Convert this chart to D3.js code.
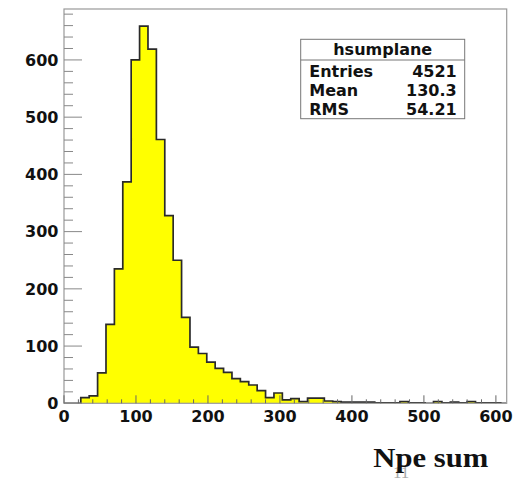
<!DOCTYPE html>
<html>
<head>
<meta charset="utf-8">
<script src="https://cdn.jsdelivr.net/npm/d3@7/dist/d3.min.js"></script>
<style>
  html, body { margin: 0; padding: 0; background: #fff; }
  svg { display: block; }
</style>
</head>
<body>
<svg id="chart" width="520" height="479"></svg>
<script>
// ---- data ----
const histName = "hsumplane";
const binWidth = 35 / 3;          // histogram bin width (Npe units)
const binStart = 0;               // lower edge of first bin
const counts = [0, 0, 10, 13, 53, 138, 235, 387, 600, 659, 619, 461, 328, 250, 150, 98,
                87, 72, 61, 54, 43, 38, 32, 22, 10, 18, 6, 8, 3, 9, 9, 4, 3, 2, 2, 2, 2,
                1, 1, 1, 3, 1, 1, 0, 3, 1, 2, 1, 3, 1, 1, 1, 0];
const xDomain = [0, 615];
const yDomain = [0, 689];
const xTicks = [0, 100, 200, 300, 400, 500, 600];
const yTicks = [0, 100, 200, 300, 400, 500, 600];
const statLabels = ["Entries", "Mean", "RMS"];
const statValues = ["4521", "130.3", "54.21"];
const xTitle = "Npe sum";

// ---- layout ----
const fL = 64, fR = 506.7, fT = 9, fB = 403.3;
const svg = d3.select("#chart");
const x = d3.scaleLinear().domain(xDomain).range([fL, fR]);
const y = d3.scaleLinear().domain(yDomain).range([fB, fT]);
const font = "'DejaVu Sans', Verdana, sans-serif";

svg.append("defs").append("clipPath").attr("id", "clip")
  .append("rect").attr("x", fL).attr("y", fT).attr("width", fR - fL).attr("height", fB - fT);

// histogram steps
const pts = counts.map((c, i) => ({ x0: binStart + i * binWidth, c }));
pts.push({ x0: binStart + counts.length * binWidth, c: counts[counts.length - 1] });

const area = d3.area().curve(d3.curveStepAfter)
  .x(d => x(d.x0)).y0(y(0)).y1(d => y(d.c));
const line = d3.line().curve(d3.curveStepAfter)
  .x(d => x(d.x0)).y(d => y(d.c));

const g = svg.append("g").attr("clip-path", "url(#clip)");
g.append("path").datum(pts).attr("d", area).attr("fill", "#ffff00");
g.append("path").datum(pts).attr("d", line).attr("fill", "none")
  .attr("stroke", "#2a2a2a").attr("stroke-width", 1.7);

// frame
svg.append("rect").attr("x", fL).attr("y", fT).attr("width", fR - fL).attr("height", fB - fT)
  .attr("fill", "none").attr("stroke", "#999").attr("stroke-width", 1.2);

// y axis ticks (inward)
const yMinor = d3.range(0, yDomain[1], 20);
svg.append("g").selectAll("line").data(yMinor).join("line")
  .attr("x1", fL).attr("x2", d => fL + (d % 100 === 0 ? 18 : 9))
  .attr("y1", d => y(d)).attr("y2", d => y(d))
  .attr("stroke", "#888").attr("stroke-width", 1);
svg.append("g").selectAll("text").data(yTicks).join("text")
  .attr("x", 58.5).attr("y", d => y(d) + 5.8)
  .attr("text-anchor", "end")
  .attr("font-family", font).attr("font-weight", "bold").attr("font-size", 16)
  .attr("fill", "#111").text(d => d);

// x axis ticks (inward)
const xMinor = d3.range(0, xDomain[1], 20);
svg.append("g").selectAll("line").data(xMinor).join("line")
  .attr("x1", d => x(d)).attr("x2", d => x(d))
  .attr("y1", fB).attr("y2", d => fB - (d % 100 === 0 ? 8 : 4))
  .attr("stroke", "#666").attr("stroke-width", 1);
svg.append("g").selectAll("text").data(xTicks).join("text")
  .attr("x", d => x(d)).attr("y", 422)
  .attr("text-anchor", "middle")
  .attr("font-family", font).attr("font-weight", "bold").attr("font-size", 16)
  .attr("fill", "#111").text(d => d);

// axis title
svg.append("text").attr("x", 393).attr("y", 477.5)
  .attr("font-family", "'Liberation Serif', serif").attr("font-size", 17)
  .attr("fill", "#aaa").text("11");
svg.append("text").attr("x", 373.3).attr("y", 466.7)
  .attr("font-family", "'Liberation Serif', 'Times New Roman', serif")
  .attr("font-weight", "bold").attr("font-size", 28)
  .attr("textLength", 115).attr("lengthAdjust", "spacingAndGlyphs")
  .attr("fill", "#111").text(xTitle);

// stats box
const bx0 = 300.7, bx1 = 464.7, by0 = 39.3, by1 = 118.7, sep = 60;
const sb = svg.append("g");
sb.append("rect").attr("x", bx0).attr("y", by0).attr("width", bx1 - bx0).attr("height", by1 - by0)
  .attr("fill", "#fff").attr("stroke", "#777").attr("stroke-width", 1);
sb.append("line").attr("x1", bx0).attr("x2", bx1).attr("y1", sep).attr("y2", sep)
  .attr("stroke", "#777").attr("stroke-width", 1);
sb.append("text").attr("x", (bx0 + bx1) / 2).attr("y", 55)
  .attr("text-anchor", "middle")
  .attr("font-family", font).attr("font-weight", "bold").attr("font-size", 16)
  .attr("fill", "#111").text(histName);
const rowY = [76.5, 96, 115];
sb.selectAll("text.lab").data(statLabels).join("text").attr("class", "lab")
  .attr("x", 309.3).attr("y", (d, i) => rowY[i])
  .attr("font-family", font).attr("font-weight", "bold").attr("font-size", 16)
  .attr("fill", "#111").text(d => d);
sb.selectAll("text.val").data(statValues).join("text").attr("class", "val")
  .attr("x", 456.7).attr("y", (d, i) => rowY[i]).attr("text-anchor", "end")
  .attr("font-family", font).attr("font-weight", "bold").attr("font-size", 16)
  .attr("fill", "#111").text(d => d);
</script>
</body>
</html>
